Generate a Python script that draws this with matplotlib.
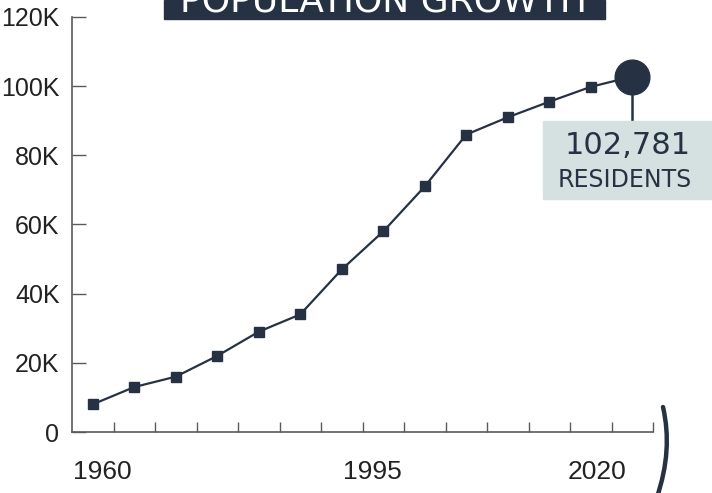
import matplotlib
matplotlib.use("Agg")
import matplotlib.pyplot as plt
from matplotlib.patches import Rectangle, PathPatch
from matplotlib.path import Path

# data
years = [1960, 1965, 1970, 1975, 1980, 1985, 1990, 1995, 2000, 2005, 2010, 2015, 2020, 2025]
population = [8000, 13000, 16000, 22000, 29000, 34000, 47000, 58000, 71000, 86000, 91000, 95500, 99800, 102781]
year_labels = ["1960", "1995", "2020"]
y_ticks = [0, 20000, 40000, 60000, 80000, 100000, 120000]
y_tick_labels = ["0", "20K", "40K", "60K", "80K", "100K", "120K"]

NAVY = "#263244"
GREY = "#5a5a5a"
W, H = 712, 493

def fx(px):
    return px / W

def fy(py):
    return 1 - py / H

fig = plt.figure(figsize=(7.12, 4.93), dpi=100)
ax = fig.add_axes([fx(72), fy(432), fx(653) - fx(72), fy(17) - fy(432)])

x = list(range(len(years)))
ax.plot(x[:-1], population[:-1], color=NAVY, lw=1.6, marker="s", markersize=7.5,
        clip_on=False, zorder=3)
ax.plot(x[-2:], population[-2:], color=NAVY, lw=1.6, clip_on=False, zorder=3)
ax.plot(x[-1], population[-1], "o", color=NAVY, markersize=25, clip_on=False, zorder=4)

ax.set_xlim(-0.5, len(years) - 0.5)
ax.set_ylim(0, 120000)
ax.set_xticks([i + 0.5 for i in x])
ax.set_xticklabels([])
ax.set_yticks(y_ticks)
ax.set_yticklabels(y_tick_labels, fontsize=18, family="Liberation Sans", color="#222222")
ax.tick_params(axis="y", direction="in", length=10, width=1, color=GREY, pad=9)
ax.tick_params(axis="x", direction="in", length=7, width=1, color=GREY)
for s in ["top", "right"]:
    ax.spines[s].set_visible(False)
for s in ["left", "bottom"]:
    ax.spines[s].set_color(GREY)
    ax.spines[s].set_linewidth(1.2)

# year labels under the axis
label_px = [102, 372, 597]
for lab, px in zip(year_labels, label_px):
    fig.text(fx(px), fy(472), lab, ha="center", va="center", fontsize=19,
             family="Liberation Sans", color="#222222")

# title box (cut off at top, as in the original)
fig.patches.append(Rectangle((fx(164), fy(19)), fx(605) - fx(164), 1 - fy(19),
                             transform=fig.transFigure, color=NAVY, zorder=1))
fig.text(fx(384), fy(12), "POPULATION GROWTH", ha="center", va="baseline",
         fontsize=26, color="white", family="DejaVu Sans", zorder=2)

# callout
fig.patches.append(Rectangle((fx(543), fy(199)), fx(712) - fx(543), fy(121) - fy(199),
                             transform=fig.transFigure, color="#d5e1e0", zorder=1))
box_top = 120000 * (432 - 121) / 415
ax.plot([x[-1], x[-1]], [population[-1], box_top], color=NAVY, lw=1.8,
        zorder=2, clip_on=False)
fig.text(fx(628), fy(146), f"{population[-1]:,}", ha="center", va="center",
         fontsize=22, color=NAVY, family="DejaVu Sans")
fig.text(fx(625), fy(180), "RESIDENTS", ha="center", va="center",
         fontsize=17, color=NAVY, family="DejaVu Sans")

# bracket on the right
verts = [(fx(663), fy(407)), (fx(673), fy(450)), (fx(657), fy(497))]
path = Path(verts, [Path.MOVETO, Path.CURVE3, Path.CURVE3])
fig.patches.append(PathPatch(path, transform=fig.transFigure, fill=False,
                             edgecolor=NAVY, lw=3.2, capstyle="round"))

plt.savefig("out.png", dpi=100)
plt.close()
